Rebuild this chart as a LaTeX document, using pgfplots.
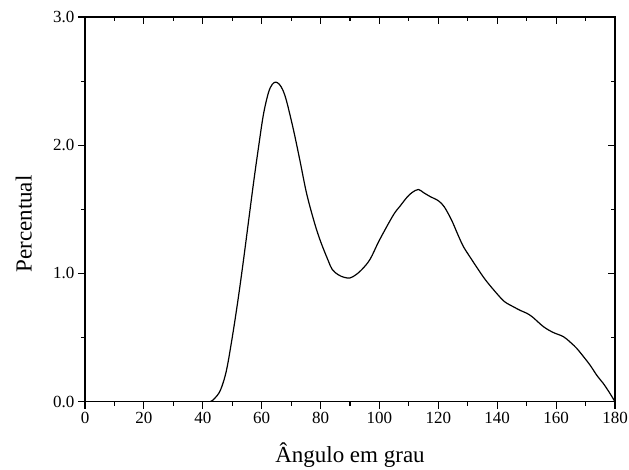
\documentclass[border=0pt]{standalone}
\usepackage{pgfplots}
\pgfplotsset{compat=1.18}
\usepackage{fontspec}
\setmainfont{Liberation Serif}
\begin{document}
\begin{tikzpicture}
\useasboundingbox (0,0) rectangle (629pt,470pt);
\pgfplotsset{
  common/.style={
    scale only axis, width=530pt, height=384.7pt,
    at={(85pt,68.3pt)}, anchor=south west,
    xmin=0, xmax=180, ymin=0, ymax=3,
    xtick={0,20,...,180}, ytick={0,1,2,3},
    minor x tick num=1, minor y tick num=1,
    major tick length=7pt, minor tick length=4pt,
    axis line style={line width=1.2pt},
    every tick/.style={black, line width=1.1pt},
    /pgf/number format/assume math mode=true,
    tick label style={font=\fontsize{17}{19}\selectfont},
  }
}
\begin{axis}[common,
  xtick pos=bottom, ytick pos=left, tick align=outside,
  yticklabel style={/pgf/number format/fixed, /pgf/number format/precision=1, /pgf/number format/fixed zerofill},
  xlabel={Ângulo em grau}, ylabel={Percentual},
  xlabel style={font=\fontsize{23}{26}\selectfont, at={(axis description cs:0.5,-0.159)}, anchor=base},
  ylabel style={font=\fontsize{23}{26}\selectfont, at={(axis description cs:-0.1006,0.462)}, anchor=base, rotate=0},
]
\addplot[black, line width=1.2pt, smooth, tension=0.55] coordinates {
(0,0) (20,0) (40,0) (42.5,0) (44,0.025) (46,0.09) (48,0.24) (50,0.5) (52,0.80)
(53.8,1.10) (55.5,1.40) (57.2,1.70) (58.9,1.98) (60.6,2.24) (62.3,2.41) (63.6,2.475) (64.8,2.492)
(66,2.475) (67.2,2.43) (68.5,2.34) (70.8,2.12) (73,1.88) (75.3,1.62) (78,1.39) (80,1.25) (82.6,1.10)
(84,1.03) (86,0.99) (88,0.97) (90,0.965) (92,0.99) (94,1.03) (96.8,1.11) (100,1.26)
(104.7,1.455) (107,1.525) (109.2,1.59) (111,1.63) (113.2,1.655) (115,1.63) (117.2,1.60)
(120,1.567) (122,1.52) (124.5,1.416) (126.5,1.31) (128.5,1.21) (131,1.12) (133,1.05)
(136,0.95) (139.8,0.845) (142.5,0.78) (145.5,0.74) (148,0.71) (150,0.69) (152,0.66)
(155.7,0.585) (159,0.54) (162.5,0.507) (165,0.46) (167,0.416) (169,0.36) (171.5,0.286)
(174,0.20) (176,0.143) (178,0.075) (180,0.0)
};
\end{axis}
\begin{axis}[common,
  xtick pos=top, ytick pos=right, tick align=inside,
  xticklabels={}, yticklabels={},
]
\end{axis}
\end{tikzpicture}
\end{document}
